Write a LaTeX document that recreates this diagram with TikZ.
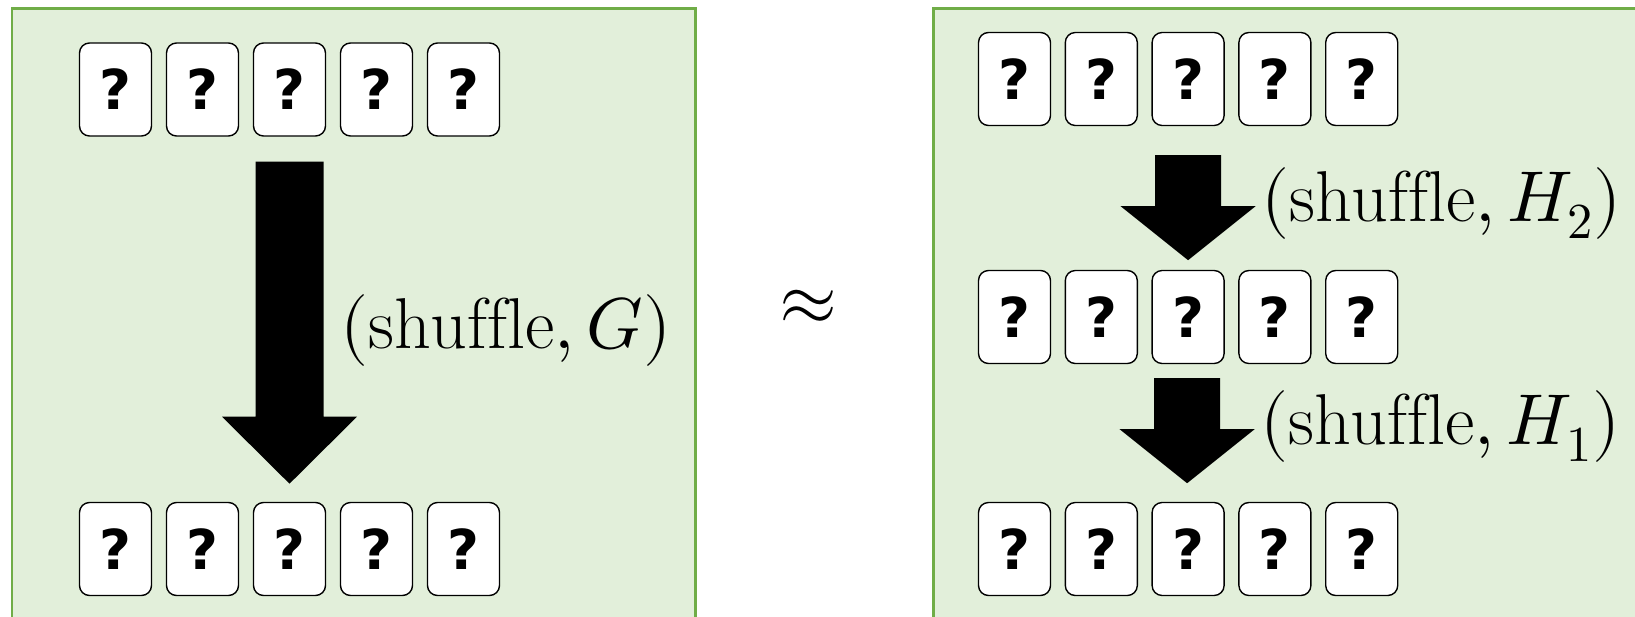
\documentclass[tikz,border=0pt]{standalone}
\usepackage{fontspec}
\usepackage{unicode-math}
\newfontfamily\qfont{DejaVu Sans}
\usetikzlibrary{calc}
\definecolor{panelfill}{HTML}{E2EFDA}
\definecolor{panelline}{HTML}{70AD47}
\begin{document}
\begin{tikzpicture}[x=1pt,y=-1pt,
  card/.style={draw=black,fill=white,line width=1.4pt,rounded corners=10pt,
    minimum width=72pt,minimum height=93pt,inner sep=0pt,
    font=\qfont\bfseries\fontsize{55}{60}\selectfont},
  panel/.style={draw=panelline,fill=panelfill,line width=2.7pt},
  lab/.style={anchor=west,inner sep=0pt,font=\fontsize{72}{80}\selectfont},
  pics/blockarr/.style n args={3}{code={
    \fill[black] (-#1,0) -- (#1,0) -- (#1,#2) -- (67.5,#2) -- (0,#3)
      -- (-67.5,#2) -- (-#1,#2) -- cycle;}}]
\useasboundingbox (0,0) rectangle (1635,616);
\begin{scope}
  \clip (0,0) rectangle (1635,616);
  \draw[panel] (12,8.5) rectangle (695.5,660);
  \draw[panel] (933.5,8.5) rectangle (1680,660);
\end{scope}
% left panel cards
\foreach \i/\n in {0/a,1/b,2/c,3/d,4/e}{
  \node[card] (L1\n) at (115.5+87*\i,89.5) {?};
  \node[card] (L2\n) at (115.5+87*\i,549) {?};
}
% right panel cards
\foreach \i/\n in {0/a,1/b,2/c,3/d,4/e}{
  \node[card] (R1\n) at (1014.5+86.8*\i,79) {?};
  \node[card] (R2\n) at (1014.5+86.8*\i,317) {?};
  \node[card] (R3\n) at (1014.5+86.8*\i,549) {?};
}
% block arrows
\pic at ($(L1c.south)+(0,25)$) {blockarr={34}{255}{322}};
\pic at ($(R1c.south)+(0,29)$) {blockarr={33}{51}{105}};
\pic at ($(R2c.south)+(-1,14)$) {blockarr={33}{51}{105}};
% labels
\node[lab] (lg) at (340,330) {$(\mathrm{shuffle}, G)$};
\node[lab] (lh2) at (1261,203) {$(\mathrm{shuffle}, H_2)$};
\node[lab] (lh1) at (1260,426) {$(\mathrm{shuffle}, H_1)$};
\node[inner sep=0pt,font=\fontsize{75}{80}\selectfont] (approx) at (808.5,307.5) {$\approx$};
\end{tikzpicture}
\end{document}
